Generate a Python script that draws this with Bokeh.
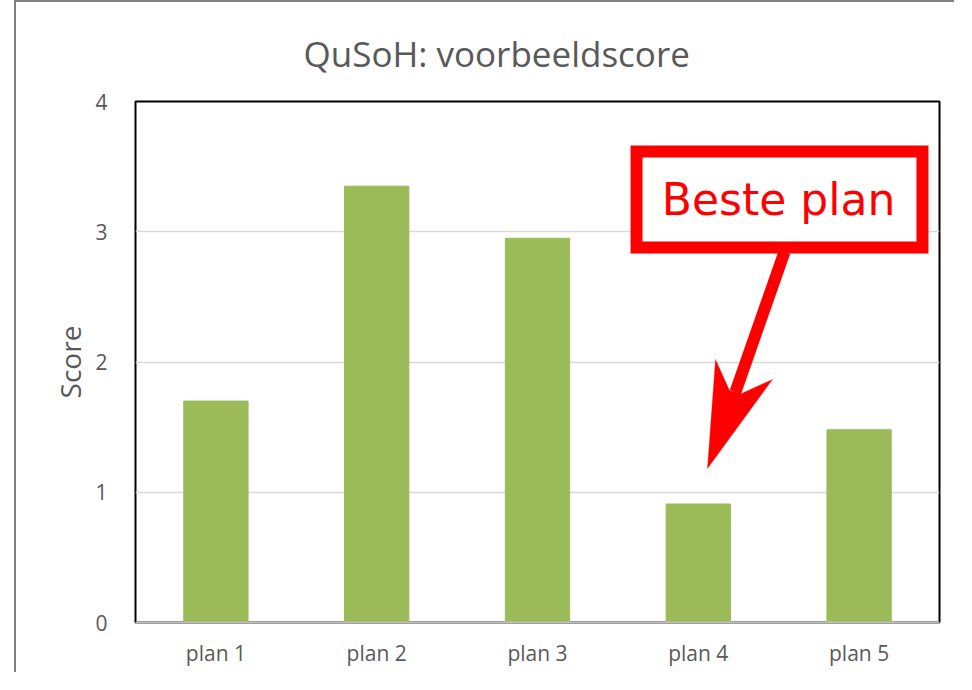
from bokeh.plotting import figure
from bokeh.models import Range1d, FixedTicker, BoxAnnotation, Label, PolyAnnotation, Arrow
from bokeh.embed import file_html
from bokeh.resources import INLINE

# ---- data ----
plans = ["plan 1", "plan 2", "plan 3", "plan 4", "plan 5"]
scores = [1.70, 3.35, 2.95, 0.91, 1.48]
y_ticks = [0, 1, 2, 3, 4]
title_text = "QuSoH: voorbeeldscore"
y_label = "Score"
note_text = "Beste plan"

positions = list(range(1, len(plans) + 1))

TXT = "#595959"
FONT = "Open Sans"

p = figure(width=940, height=672, output_backend="svg", toolbar_location=None,
           x_range=Range1d(0.5, len(plans) + 0.5), y_range=Range1d(0, 4),
           min_border_left=119, min_border_right=17, min_border_top=99, min_border_bottom=52)
p.margin = (0, 0, 0, 14)
p.styles = {"border-left": "2px solid #7f7f7f", "border-top": "2px solid #7f7f7f"}

p.title.text = title_text
p.title.align = "left"
p.title.text_font = FONT
p.title.text_font_size = "35px"
p.title.text_font_style = "normal"
p.title.text_color = TXT
p.title.standoff = 50
p.title.offset = 168

p.vbar(x=positions, top=scores, width=0.4, color="#9BBB59")

p.outline_line_color = "black"
p.outline_line_width = 2
p.outline_line_alpha = 1

p.xgrid.grid_line_color = None
p.ygrid.grid_line_color = "#d9d9d9"
p.ygrid.grid_line_width = 1.5
p.yaxis.ticker = FixedTicker(ticks=y_ticks)
p.xaxis.ticker = FixedTicker(ticks=positions)
p.xaxis.major_label_overrides = {pos: name for pos, name in zip(positions, plans)}

for ax in (p.xaxis[0], p.yaxis[0]):
    ax.major_tick_line_color = None
    ax.minor_tick_line_color = None
    ax.major_label_text_font = FONT
    ax.major_label_text_font_size = "21px"
    ax.major_label_text_color = TXT
p.yaxis.axis_line_color = None
p.xaxis.axis_line_color = "#bfbfbf"
p.xaxis.axis_line_width = 2
p.yaxis.major_label_standoff = 22
p.xaxis.major_label_standoff = 10

p.yaxis.axis_label = y_label
p.yaxis.axis_label_text_font = FONT
p.yaxis.axis_label_text_font_size = "28px"
p.yaxis.axis_label_text_font_style = "normal"
p.yaxis.axis_label_text_color = TXT
p.yaxis.axis_label_standoff = 3

# ---- annotation: red box, text, arrow ----
RED = "#ff0000"
p.add_layout(BoxAnnotation(left=3.616, right=5.394, bottom=2.879, top=3.616,
                           fill_color="white", fill_alpha=1.0,
                           line_color=RED, line_width=12, line_alpha=1.0,
                           line_join="miter"))
p.add_layout(Label(x=4.499, y=3.248, text=note_text, text_align="center",
                   text_baseline="alphabetic", text_font="DejaVu Sans",
                   text_font_size="44px", text_color=RED))
p.add_layout(Arrow(end=None, x_start=4.536, y_start=2.845, x_end=4.231, y_end=1.77,
                   line_color=RED, line_width=12))
p.add_layout(PolyAnnotation(xs=[4.057, 4.107, 4.194, 4.269, 4.461],
                            ys=[1.182, 2.019, 1.781, 1.758, 1.866],
                            fill_color=RED, fill_alpha=1.0, line_color=RED, line_width=1))

open("out.html", "w").write(file_html(p, INLINE))
